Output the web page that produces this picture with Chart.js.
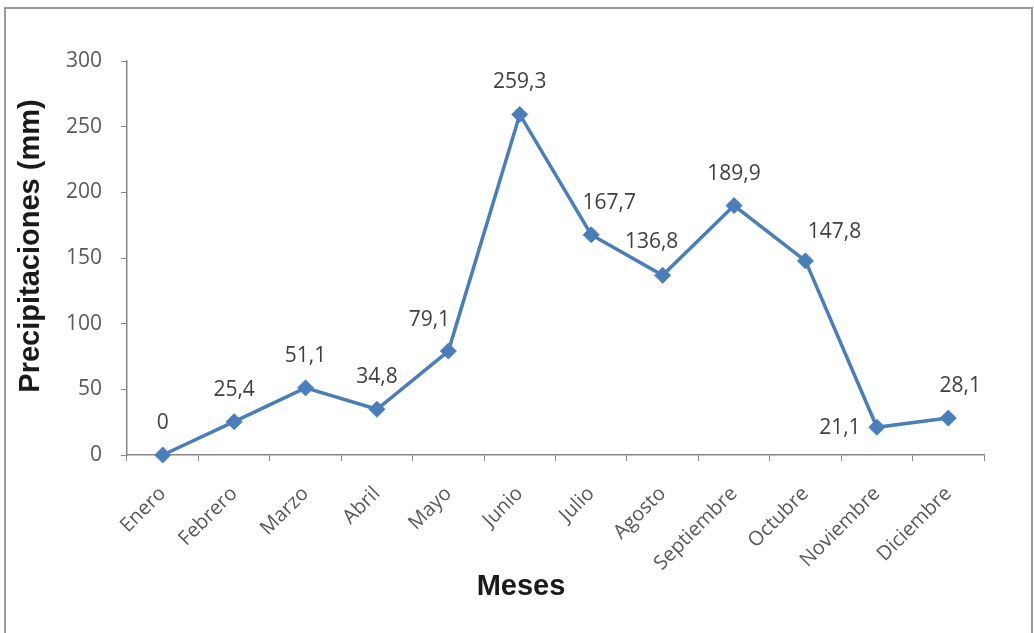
<!DOCTYPE html>
<html>
<head>
<meta charset="utf-8">
<script src="https://cdn.jsdelivr.net/npm/chart.js@4.4.0/dist/chart.umd.min.js"></script>
<style>
  html, body { margin: 0; padding: 0; background: #fff; }
  #wrap { position: relative; width: 1034px; height: 633px; overflow: hidden; }
  #frame { position: absolute; left: 4px; top: 7px; width: 1029px; height: 640px; border: 2px solid #9a9a9a; box-sizing: border-box; }
  #c { position: absolute; left: 0; top: 0; }
</style>
</head>
<body>
<div id="wrap">
  <div id="frame"></div>
  <canvas id="c" width="1034" height="633"></canvas>
</div>
<script>
// datos
var meses = ["Enero", "Febrero", "Marzo", "Abril", "Mayo", "Junio", "Julio",
  "Agosto", "Septiembre", "Octubre", "Noviembre", "Diciembre"];
var precipitaciones = [0, 25.4, 51.1, 34.8, 79.1, 259.3, 167.7, 136.8, 189.9, 147.8, 21.1, 28.1];
var yTicks = [0, 50, 100, 150, 200, 250, 300];
var tituloX = "Meses";
var tituloY = "Precipitaciones (mm)";

// where each value label sits relative to its point
var labelPlace = ["top", "top", "top", "top", "topleft", "top", "topright",
  "topleft2", "top", "topright2", "left", "topright3"];

var placeOffsets = {
  top: [0, -32],
  topleft: [-19, -31],
  topright: [18, -32],
  topleft2: [-11, -33],
  topright2: [29, -29],
  left: [-37, 1],
  topright3: [12, -32]
};

var valueLabels = {
  id: "valueLabels",
  afterDatasetsDraw: function (chart) {
    var ctx = chart.ctx;
    var meta = chart.getDatasetMeta(0);
    ctx.save();
    ctx.font = "21px 'Open Sans'";
    ctx.fillStyle = "#404040";
    ctx.textAlign = "center";
    ctx.textBaseline = "middle";
    meta.data.forEach(function (pt, i) {
      var off = placeOffsets[labelPlace[i]];
      var txt = String(precipitaciones[i]).replace(".", ",");
      ctx.fillText(txt, pt.x + off[0], pt.y + off[1]);
    });
    ctx.restore();
  }
};

// axis titles: the original centres them on the whole frame, not the plot
var axisTitles = {
  id: "axisTitles",
  afterDraw: function (chart) {
    var ctx = chart.ctx;
    ctx.save();
    ctx.font = "bold 29px 'Liberation Sans'";
    ctx.fillStyle = "#1a1a1a";
    ctx.textAlign = "center";
    ctx.textBaseline = "middle";
    ctx.fillText(tituloX, 521, 587);
    ctx.translate(31, 246);
    ctx.rotate(-Math.PI / 2);
    ctx.fillText(tituloY, 0, 0);
    ctx.restore();
  }
};

var axisGray = "#868686";

new Chart(document.getElementById("c").getContext("2d"), {
  type: "line",
  data: {
    labels: meses,
    datasets: [{
      label: "Precipitaciones",
      data: precipitaciones,
      borderColor: "#4a7ebb",
      backgroundColor: "#4a7ebb",
      borderWidth: 3.5,
      pointStyle: "rectRot",
      pointRadius: 8,
      pointHoverRadius: 8,
      pointBackgroundColor: "#4a7ebb",
      pointBorderColor: "#4a7ebb",
      pointBorderWidth: 1,
      tension: 0,
      clip: false
    }]
  },
  plugins: [valueLabels, axisTitles],
  options: {
    responsive: false,
    animation: false,
    events: [],
    layout: {
      padding: { left: 16, right: 50, top: 61, bottom: 30 }
    },
    plugins: {
      legend: { display: false },
      title: { display: false },
      tooltip: { enabled: false }
    },
    scales: {
      x: {
        offset: true,
        afterFit: function (scale) { scale.height = 148; },
        border: { display: true, color: axisGray, width: 1.5 },
        grid: {
          display: true,
          offset: true,
          drawOnChartArea: false,
          drawTicks: true,
          tickLength: 6,
          color: axisGray
        },
        ticks: {
          maxRotation: 45,
          minRotation: 45,
          autoSkip: false,
          padding: 21,
          color: "#595959",
          font: { family: "'Open Sans'", size: 20 }
        }
      },
      y: {
        min: 0,
        max: 300,
        afterFit: function (scale) { scale.width = 111; },
        afterBuildTicks: function (scale) {
          scale.ticks = yTicks.map(function (v) { return { value: v }; });
        },
        border: { display: true, color: axisGray, width: 1.5 },
        grid: {
          display: true,
          drawOnChartArea: false,
          drawTicks: true,
          tickLength: 6,
          color: axisGray
        },
        ticks: {
          padding: 19,
          color: "#595959",
          font: { family: "'Open Sans'", size: 21 }
        }
      }
    }
  }
});
</script>
</body>
</html>
